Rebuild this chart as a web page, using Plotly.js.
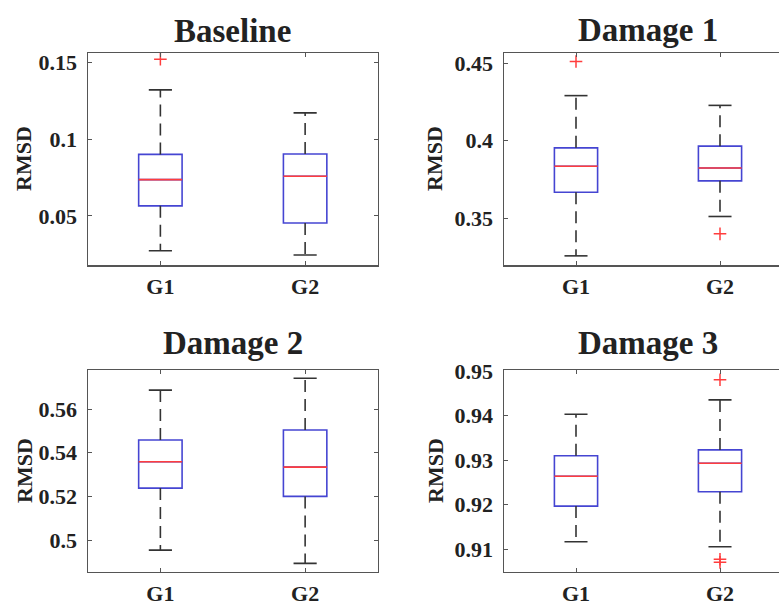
<!DOCTYPE html>
<html>
<head>
<meta charset="utf-8">
<script src="https://cdn.plot.ly/plotly-3.0.1.min.js"></script>
<style>html,body{margin:0;padding:0;background:#fff;}#chart{width:779px;height:604px;}</style>
</head>
<body>
<div id="chart"></div>
<script>
// ---- data ----
const groups = ['G1', 'G2'];
const titles = ['Baseline', 'Damage 1', 'Damage 2', 'Damage 3'];
const yLabel = 'RMSD';

// Baseline
const baseLower  = [0.0273, 0.0245];
const baseQ1     = [0.0565, 0.0453];
const baseMedian = [0.0736, 0.0758];
const baseQ3     = [0.0900, 0.0903];
const baseUpper  = [0.1320, 0.1170];
const baseOutGroup = ['G1'];
const baseOutValue = [0.1520];

// Damage 1
const dam1Lower  = [0.3256, 0.3510];
const dam1Q1     = [0.3666, 0.3740];
const dam1Median = [0.3834, 0.3823];
const dam1Q3     = [0.3953, 0.3964];
const dam1Upper  = [0.4290, 0.4227];
const dam1OutGroup = ['G1', 'G2'];
const dam1OutValue = [0.4510, 0.3398];

// Damage 2
const dam2Lower  = [0.4954, 0.4893];
const dam2Q1     = [0.5238, 0.5200];
const dam2Median = [0.5359, 0.5334];
const dam2Q3     = [0.5458, 0.5504];
const dam2Upper  = [0.5687, 0.5741];
const dam2OutGroup = [];
const dam2OutValue = [];

// Damage 3
const dam3Lower  = [0.9117, 0.9106];
const dam3Q1     = [0.9197, 0.9229];
const dam3Median = [0.9264, 0.9293];
const dam3Q3     = [0.9310, 0.9323];
const dam3Upper  = [0.9403, 0.9435];
const dam3OutGroup = ['G2', 'G2', 'G2'];
const dam3OutValue = [0.9480, 0.9078, 0.9071];

// ---- build ----
const panels = [
  {lo: baseLower, q1: baseQ1, med: baseMedian, q3: baseQ3, hi: baseUpper, og: baseOutGroup, ov: baseOutValue},
  {lo: dam1Lower, q1: dam1Q1, med: dam1Median, q3: dam1Q3, hi: dam1Upper, og: dam1OutGroup, ov: dam1OutValue},
  {lo: dam2Lower, q1: dam2Q1, med: dam2Median, q3: dam2Q3, hi: dam2Upper, og: dam2OutGroup, ov: dam2OutValue},
  {lo: dam3Lower, q1: dam3Q1, med: dam3Median, q3: dam3Q3, hi: dam3Upper, og: dam3OutGroup, ov: dam3OutValue}
];

const BOXW = 0.30, CAPW = 0.16;
const boxBlue = '#4545d2', medRed = '#ff3d3d', whisk = '#333333', axCol = '#555555';
const pos = groups.map((g, i) => i + 1);

const traces = [];
panels.forEach((p, k) => {
  const xa = 'x' + (k === 0 ? '' : k + 1), ya = 'y' + (k === 0 ? '' : k + 1);
  // box body
  traces.push({
    type: 'box', xaxis: xa, yaxis: ya, x: pos,
    q1: p.q1, median: p.med, q3: p.q3, lowerfence: p.q1, upperfence: p.q3,
    width: BOXW, whiskerwidth: 0, fillcolor: 'rgba(0,0,0,0)',
    line: {color: boxBlue, width: 1.6}, hoverinfo: 'skip', showlegend: false
  });
  // whiskers (dashed)
  const wx = [], wy = [];
  pos.forEach((x, i) => { wx.push(x, x, null, x, x, null); wy.push(p.q3[i], p.hi[i], null, p.q1[i], p.lo[i], null); });
  traces.push({type: 'scatter', mode: 'lines', xaxis: xa, yaxis: ya, x: wx, y: wy,
    line: {color: whisk, width: 1.6, dash: '12px,7px'}, hoverinfo: 'skip', showlegend: false});
  // caps
  const cx = [], cy = [];
  pos.forEach((x, i) => { cx.push(x - CAPW / 2, x + CAPW / 2, null, x - CAPW / 2, x + CAPW / 2, null); cy.push(p.hi[i], p.hi[i], null, p.lo[i], p.lo[i], null); });
  traces.push({type: 'scatter', mode: 'lines', xaxis: xa, yaxis: ya, x: cx, y: cy,
    line: {color: whisk, width: 1.6}, hoverinfo: 'skip', showlegend: false});
  // medians
  const mx = [], my = [];
  pos.forEach((x, i) => { mx.push(x - BOXW / 2, x + BOXW / 2, null); my.push(p.med[i], p.med[i], null); });
  traces.push({type: 'scatter', mode: 'lines', xaxis: xa, yaxis: ya, x: mx, y: my,
    line: {color: medRed, width: 1.6}, hoverinfo: 'skip', showlegend: false});
  // outliers
  traces.push({type: 'scatter', mode: 'markers', xaxis: xa, yaxis: ya,
    x: p.og.map(g => groups.indexOf(g) + 1), y: p.ov,
    marker: {symbol: 'cross-thin', size: 9, line: {color: medRed, width: 1.5}},
    hoverinfo: 'skip', showlegend: false});
});

const W = 779, H = 604;
const leftDom = [88 / W, 377.5 / W], rightDom = [504 / W, 1];
const topDom = [(H - 265) / H, (H - 53) / H], botDom = [(H - 571.7) / H, (H - 370) / H];
const tickFont = {family: 'Liberation Serif, Times New Roman, serif', size: 22, color: '#222', weight: 'bold'};

function xAxis(dom, anchor, right) {
  return {domain: dom, anchor: anchor, range: right ? [0.5, 0.5 + 275 / 144] : [0.5, 2.5],
    tickmode: 'array', tickvals: pos, ticktext: groups, ticks: 'inside', ticklen: 4, tickwidth: 1,
    tickcolor: axCol, showline: true, linecolor: axCol, linewidth: 1.5, mirror: 'ticks',
    showgrid: false, zeroline: false, tickfont: tickFont, ticklabelstandoff: 1, fixedrange: true};
}
function yAxis(dom, anchor, range, dtick, right) {
  return {domain: dom, anchor: anchor, range: range, tick0: 0, dtick: dtick,
    ticks: 'inside', ticklen: 4, tickwidth: 1, tickcolor: axCol, showline: true, linecolor: axCol,
    linewidth: 1.5, mirror: right ? false : 'ticks', showgrid: false, zeroline: false,
    tickfont: tickFont, ticklabelstandoff: 5, fixedrange: true};
}

const titleFont = {family: 'Liberation Serif, Times New Roman, serif', size: 33, color: '#222', weight: 'bold'};
const annotations = [];
const titleY = [31, 30, 343, 343];
const labelX = [24, 435];
const labelY = [159, 159, 471, 471];
titles.forEach((t, k) => {
  annotations.push({text: t, xref: 'x' + (k === 0 ? '' : k + 1), x: 1.5, yref: 'paper', y: (H - titleY[k]) / H,
    xanchor: 'center', yanchor: 'middle', showarrow: false, font: titleFont});
  annotations.push({text: yLabel, xref: 'paper', x: labelX[k % 2] / W, yref: 'paper', y: (H - labelY[k]) / H,
    xanchor: 'center', yanchor: 'middle', textangle: -90, showarrow: false,
    font: {family: 'Liberation Serif, Times New Roman, serif', size: 22, color: '#222', weight: 'bold'}});
});

const layout = {
  width: W, height: H, margin: {l: 0, r: 0, t: 0, b: 0},
  paper_bgcolor: '#fff', plot_bgcolor: '#fff', showlegend: false,
  xaxis: xAxis(leftDom, 'y', false),
  yaxis: yAxis(topDom, 'x', [0.018, 0.156], 0.05, false),
  xaxis2: xAxis(rightDom, 'y2', true),
  yaxis2: yAxis(topDom, 'x2', [0.3197, 0.4565], 0.05, true),
  xaxis3: xAxis(leftDom, 'y3', false),
  yaxis3: yAxis(botDom, 'x3', [0.4855, 0.5779], 0.02, false),
  xaxis4: xAxis(rightDom, 'y4', true),
  yaxis4: yAxis(botDom, 'x4', [0.905, 0.9502], 0.01, true),
  annotations: annotations
};

Plotly.newPlot('chart', traces, layout, {displayModeBar: false, staticPlot: true});
</script>
</body>
</html>
